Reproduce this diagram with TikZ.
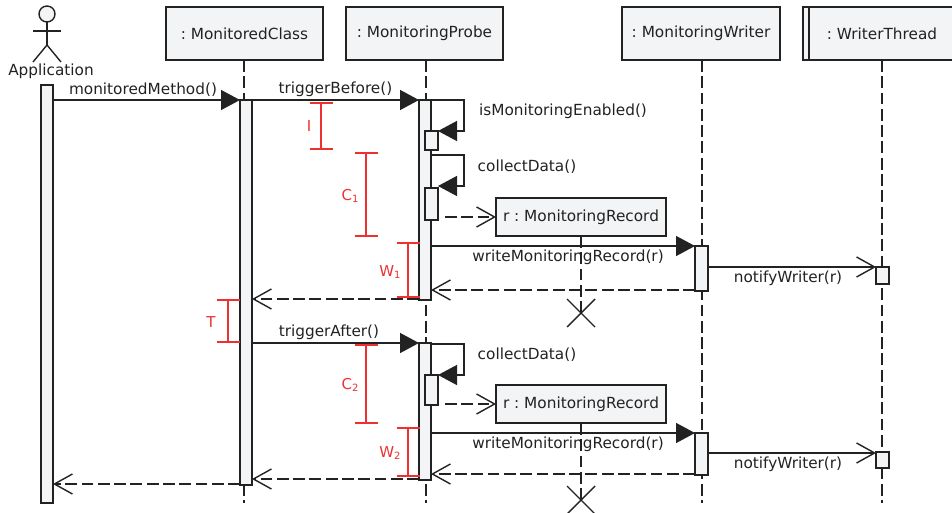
\documentclass[tikz,border=0pt]{standalone}
\usepackage{fontspec}
\setmainfont{DejaVu Sans}
\usetikzlibrary{arrows.meta,shapes.misc,calc}
\definecolor{ink}{HTML}{222222}
\definecolor{boxfill}{HTML}{F3F4F6}
\definecolor{redm}{HTML}{EE3030}
\newcommand{\lblfont}{\fontsize{15.3}{18}\selectfont\frenchspacing}
\newcommand{\subm}[1]{{\fontsize{10}{10}\selectfont\raisebox{-2.5pt}{#1}}}
\tikzset{
  obj/.style={draw=ink,fill=boxfill,line width=1.4pt,inner sep=0pt,outer sep=0pt,minimum width=#1,minimum height=53pt,font=\lblfont,text=ink},
  rec/.style={draw=ink,fill=boxfill,line width=1.4pt,inner sep=0pt,outer sep=0pt,minimum width=170pt,minimum height=38pt,font=\lblfont,text=ink},
  bar/.style={draw=ink,fill=boxfill,line width=1.4pt,inner sep=0pt,outer sep=0pt,minimum width=#1},
  bar/.default=12pt,
  life/.style={draw=ink,line width=1.4pt,dash pattern=on 11.8pt off 4.5pt},
  msg/.style={draw=ink,line width=1.4pt,-{Triangle[length=19pt,width=20pt,fill=ink]}},
  msgopen/.style={draw=ink,line width=1.4pt,-{Straight Barb[length=18pt,width=20pt]}},
  ret/.style={draw=ink,line width=1.4pt,dash pattern=on 11.8pt off 4.5pt,-{Straight Barb[length=18pt,width=20pt]}},
  txt/.style={font=\lblfont,text=ink,inner sep=0pt},
  rlab/.style={font=\fontsize{15}{17}\selectfont,text=redm,inner sep=0pt},
  rline/.style={draw=redm,line width=1.4pt,{Bar[width=23pt,length=0pt,line width=1.6pt]}-{Bar[width=23pt,length=0pt,line width=1.6pt]}},
  killx/.style={draw=ink,line width=1.4pt,cross out,minimum size=28pt,inner sep=0pt,outer sep=0pt},
  limb/.style={draw=ink,line width=1.4pt}
}
\begin{document}
\begin{tikzpicture}[x=1pt,y=-1pt]
\useasboundingbox (0,0) rectangle (952,513);
% end points of lifelines
\coordinate (endA) at (244,503);
\coordinate (endB) at (426,503);
\coordinate (endC) at (702,503);
\coordinate (endD) at (882,503);
% objects
\node[obj=157pt] (mc) at (244.5,33.5) {: MonitoredClass};
\node[obj=157pt] (mp) at (424.5,33.5) {: MonitoringProbe};
\node[obj=158pt] (mw) at (701,33.5) {: MonitoringWriter};
\node[obj=30pt] (wtb) at (818,33.5) {};
\node[obj=146pt] (wt) at (882,33.5) {: WriterThread};
% actor
\node[draw=ink,fill=boxfill,line width=1.4pt,circle,minimum size=16pt,inner sep=0pt,outer sep=0pt] (head) at (47,14) {};
\coordinate (hip) at (47,45);
\coordinate (armL) at (33,31);
\coordinate (armR) at (61,31);
\coordinate (legL) at (33,62);
\coordinate (legR) at (61,62);
\draw[limb] (head.south) -- (hip);
\draw[limb] (armL) -- (armR);
\draw[limb] (legL) -- (hip) -- (legR);
\node[txt] (app) at (51,71) {Application};
% lifelines
\draw[life] (mc.south -| endA) -- (endA);
\draw[life] (mp.south -| endB) -- (endB);
\draw[life] (mw.south -| endC) -- (endC);
\draw[life] (wt.south -| endD) -- (endD);
% created records
\node[killx] (x1) at (581,313) {};
\node[killx] (x2) at (581,500) {};
\node[rec] (r1) at (581,217) {r : MonitoringRecord};
\node[rec] (r2) at (581,404) {r : MonitoringRecord};
\draw[life] (r1.south) -- (x1.center);
\draw[life] (r2.south) -- (x2.center);
% activation bars
\node[bar,minimum height=418pt] (a0) at (47,294) {};
\node[bar,minimum height=385pt] (b0) at (246,292.5) {};
\node[bar,minimum height=200pt] (c1) at (425,200) {};
\node[bar,minimum height=137pt] (c2) at (425,411.5) {};
\node[bar=13pt,minimum height=19pt] (n1) at (431.5,140.5) {};
\node[bar=13pt,minimum height=32pt] (n2) at (431.5,204) {};
\node[bar=13pt,minimum height=30pt] (n3) at (431.5,390) {};
\node[bar=13pt,minimum height=45pt] (d1) at (701.5,268.5) {};
\node[bar=13pt,minimum height=42pt] (d2) at (701.5,454) {};
\node[bar=13pt,minimum height=17pt] (e1) at (882.5,275.5) {};
\node[bar=13pt,minimum height=16pt] (e2) at (882.5,460) {};
% messages
\draw[msg] (a0.east |- 0,100) -- (b0.west |- 0,100);
\draw[msg] (b0.east |- 0,100) -- (c1.west |- 0,100);
\draw[msg] (c1.east |- 0,100) -- (464,100) -- (464,131) -- (n1.east |- 0,131);
\draw[msg] (c1.east |- 0,155) -- (464,155) -- (464,186) -- (n2.east |- 0,186);
\draw[ret] (n2.east |- 0,217) ++(7,0) -- (r1.west |- 0,217);
\draw[msg] (c1.east |- 0,246) -- (d1.west |- 0,246);
\draw[msgopen] (d1.east |- 0,267) -- (e1.west |- 0,267);
\draw[ret] (d1.west |- 0,290) -- (c1.east |- 0,290);
\draw[ret] (c1.west |- 0,299) -- (b0.east |- 0,299);
\draw[msg] (b0.east |- 0,343) -- (c2.west |- 0,343);
\draw[msg] (c2.east |- 0,344) -- (464,344) -- (464,375) -- (n3.east |- 0,375);
\draw[ret] (n3.east |- 0,404) ++(7,0) -- (r2.west |- 0,404);
\draw[msg] (c2.east |- 0,433) -- (d2.west |- 0,433);
\draw[msgopen] (d2.east |- 0,453) -- (e2.west |- 0,453);
\draw[ret] (d2.west |- 0,474) -- (c2.east |- 0,474);
\draw[ret] (c2.west |- 0,479) -- (b0.east |- 0,479);
\draw[ret] (b0.west |- 0,484) -- (a0.east |- 0,484);
% message labels
\node[txt] (t1) at (143,89.5) {monitoredMethod()};
\node[txt] (t2) at (335.5,89.5) {triggerBefore()};
\node[txt] (t3) at (563,111) {isMonitoringEnabled()};
\node[txt] (t4) at (527,166.5) {collectData()};
\node[txt] (t5) at (568,257) {writeMonitoringRecord(r)};
\node[txt] (t6) at (788,278.5) {notifyWriter(r)};
\node[txt] (t7) at (329,332.5) {triggerAfter()};
\node[txt] (t8) at (527,354.5) {collectData()};
\node[txt] (t9) at (568,444) {writeMonitoringRecord(r)};
\node[txt] (t10) at (788,464) {notifyWriter(r)};
% red measurements
\coordinate (iT) at (321,102); \coordinate (iB) at (321,150);
\coordinate (c1T) at (366,152); \coordinate (c1B) at (366,237);
\coordinate (w1T) at (408,242); \coordinate (w1B) at (408,298);
\coordinate (tT) at (228,299); \coordinate (tB) at (228,343);
\coordinate (c2T) at (366,344); \coordinate (c2B) at (366,424);
\coordinate (w2T) at (408,427); \coordinate (w2B) at (408,477);
\draw[rline] (iT) -- (iB);
\draw[rline] (c1T) -- (c1B);
\draw[rline] (w1T) -- (w1B);
\draw[rline] (tT) -- (tB);
\draw[rline] (c2T) -- (c2B);
\draw[rline] (w2T) -- (w2B);
\node[rlab] (li) at (309,126) {I};
\node[rlab] (lc1) at (350,196) {C\subm{1}};
\node[rlab] (lw1) at (390,272) {W\subm{1}};
\node[rlab] (lt) at (211,322) {T};
\node[rlab] (lc2) at (350,385) {C\subm{2}};
\node[rlab] (lw2) at (390,453) {W\subm{2}};
\end{tikzpicture}
\end{document}
